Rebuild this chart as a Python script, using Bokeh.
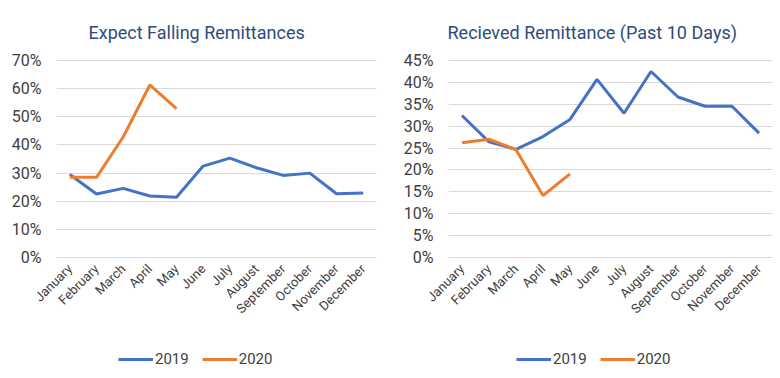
from math import pi
from bokeh.plotting import figure
from bokeh.layouts import row, column
from bokeh.models import FixedTicker, NumeralTickFormatter, Legend, LegendItem, Range1d
from bokeh.embed import file_html
from bokeh.resources import INLINE

months = ["January", "February", "March", "April", "May", "June", "July",
          "August", "September", "October", "November", "December"]
months_2020 = months[:5]

falling_2019 = [0.295, 0.226, 0.246, 0.219, 0.215, 0.325, 0.353, 0.319, 0.292, 0.300, 0.227, 0.230]
falling_2020 = [0.285, 0.285, 0.428, 0.612, 0.528]

received_2019 = [0.324, 0.264, 0.247, 0.276, 0.315, 0.406, 0.329, 0.424, 0.366, 0.345, 0.345, 0.284]
received_2020 = [0.262, 0.270, 0.246, 0.142, 0.191]

left_ticks = [0, 0.1, 0.2, 0.3, 0.4, 0.5, 0.6, 0.7]
right_ticks = [0, 0.05, 0.1, 0.15, 0.2, 0.25, 0.3, 0.35, 0.4, 0.45]

series_names = ["2019", "2020"]

BLUE = "#4472C4"
ORANGE = "#ED7D31"
FONT = "Roboto"
TEXT = "#404040"


def make(title, v19, v20, ticks, ymax, width, bl, br, title_offset):
    pad = ymax * 0.003
    p = figure(x_range=months, y_range=Range1d(-pad, ymax + pad),
               width=width, height=338, output_backend="svg", toolbar_location=None,
               min_border_left=bl, min_border_right=br, min_border_top=59, min_border_bottom=80)
    p.title.text = title
    p.title.align = "left"
    p.title.offset = title_offset
    p.title.text_font = FONT
    p.title.text_font_size = "18px"
    p.title.text_font_style = "normal"
    p.title.text_color = "#2F4B7C"
    p.title.standoff = 34
    p.outline_line_color = None

    p.line(months, v19, line_color=BLUE, line_width=3)
    p.line(months_2020, v20, line_color=ORANGE, line_width=3)

    p.xgrid.grid_line_color = None
    p.ygrid.grid_line_color = "#D9D9D9"
    p.ygrid.grid_line_width = 1
    p.yaxis.ticker = FixedTicker(ticks=ticks)
    p.yaxis.formatter = NumeralTickFormatter(format="0%")
    p.axis.axis_line_color = None
    p.axis.major_tick_line_color = None
    p.axis.minor_tick_line_color = None
    p.axis.major_tick_out = 0
    p.axis.major_tick_in = 0
    p.axis.minor_tick_out = 0
    p.axis.major_label_text_font = FONT
    p.axis.major_label_text_color = TEXT
    p.yaxis.major_label_text_font_size = "16px"
    p.yaxis.major_label_standoff = 15
    p.xaxis.major_label_text_font_size = "13px"
    p.xaxis.major_label_orientation = pi / 4
    p.xaxis.major_label_standoff = 8
    return p


def make_legend(width, legend_x, v19, v20):
    # legend-only strip: the lines sit outside its y range, so only the legend shows
    lp = figure(width=width, height=40, output_backend="svg", toolbar_location=None,
                x_axis_location=None, y_axis_location=None,
                x_range=months, y_range=Range1d(5, 6),
                min_border_left=0, min_border_right=0, min_border_top=0, min_border_bottom=0)
    lp.outline_line_color = None
    lp.grid.grid_line_color = None
    r19 = lp.line(months, v19, line_color=BLUE, line_width=3)
    r20 = lp.line(months_2020, v20, line_color=ORANGE, line_width=3)
    legend = Legend(items=[LegendItem(label=series_names[0], renderers=[r19]),
                           LegendItem(label=series_names[1], renderers=[r20])],
                    orientation="horizontal", location=(legend_x, 10))
    legend.label_text_font = FONT
    legend.label_text_font_size = "15px"
    legend.label_text_color = TEXT
    legend.glyph_width = 35
    legend.glyph_height = 16
    legend.label_standoff = 2
    legend.spacing = 13
    legend.padding = 4
    legend.border_line_color = None
    legend.background_fill_alpha = 0
    lp.add_layout(legend, "center")
    return lp


p1 = make("Expect Falling Remittances", falling_2019, falling_2020, left_ticks, 0.7, 390, 56, 14, 32)
p2 = make("Recieved Remittance (Past 10 Days)", received_2019, received_2020, right_ticks, 0.45, 390, 58, 8, -1)
lg1 = make_legend(390, 118, falling_2019, falling_2020)
lg2 = make_legend(390, 126, received_2019, received_2020)

layout = column(row(p1, p2), row(lg1, lg2))
open("out.html", "w").write(file_html(layout, INLINE))
